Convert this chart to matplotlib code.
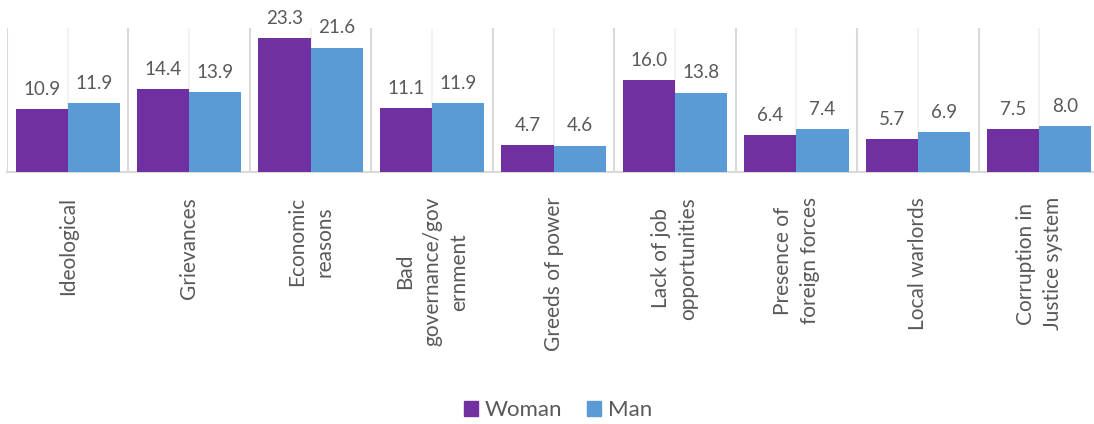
import matplotlib
matplotlib.use("Agg")
import matplotlib.pyplot as plt
from matplotlib.patches import Patch

categories = ["Ideological", "Grievances", "Economic\nreasons",
              "Bad\ngovernance/gov\nernment", "Greeds of power",
              "Lack of job\nopportunities", "Presence of\nforeign forces",
              "Local warlords", "Corruption in\nJustice system"]
woman = [10.9, 14.4, 23.3, 11.1, 4.7, 16.0, 6.4, 5.7, 7.5]
man = [11.9, 13.9, 21.6, 11.9, 4.6, 13.8, 7.4, 6.9, 8.0]


def main():
    plt.rcParams['font.family'] = ['Lato', 'DejaVu Sans']
    text_col = "#595959"
    c_woman = "#7030A0"
    c_man = "#5B9BD5"

    fig = plt.figure(figsize=(10.94, 4.24), dpi=100)
    W, H = 1094, 424
    left, right, top, bottom = 7, 1100, 28, 172
    ax = fig.add_axes([left / W, 1 - bottom / H, (right - left) / W, (bottom - top) / H])

    n = len(categories)
    x = list(range(n))
    bw = 0.43
    xw = [i - bw / 2 for i in x]
    xm = [i + bw / 2 for i in x]
    ax.bar(xw, woman, bw, color=c_woman, zorder=3)
    ax.bar(xm, man, bw, color=c_man, zorder=3)

    for xs, vals in ((xw, woman), (xm, man)):
        for xi, v in zip(xs, vals):
            ax.annotate(f"{v:.1f}", (xi, v), xytext=(0, 8), textcoords="offset points",
                        ha="center", va="bottom", fontsize=13.5, color=text_col)

    # separators between categories and light lines at centres
    for i in range(n + 1):
        ax.axvline(i - 0.5, color="#D9D9D9", lw=1.5, zorder=1)
    for i in x:
        ax.axvline(i, color="#F0F0F0", lw=1.2, zorder=1)

    ax.set_xlim(-0.5, n - 0.5)
    ax.set_ylim(0, 25)
    ax.set_yticks([])
    ax.set_xticks(x)
    ax.set_xticklabels(categories, rotation=90, fontsize=15, color=text_col,
                       linespacing=1.45)
    ax.tick_params(axis="x", length=0, pad=18)
    for s in ("top", "right", "left"):
        ax.spines[s].set_visible(False)
    ax.spines["bottom"].set_color("#D9D9D9")
    ax.spines["bottom"].set_linewidth(1.5)

    handles = [Patch(color=c_woman, label="Woman"), Patch(color=c_man, label="Man")]
    fig.legend(handles=handles, loc="center", bbox_to_anchor=(558 / W, 1 - 410 / H),
               ncol=2, frameon=False, fontsize=16, handlelength=0.65, handleheight=0.65,
               handletextpad=0.3, columnspacing=1.1, labelcolor=text_col)

    fig.savefig("out.png", dpi=100)


if __name__ == "__main__":
    main()
